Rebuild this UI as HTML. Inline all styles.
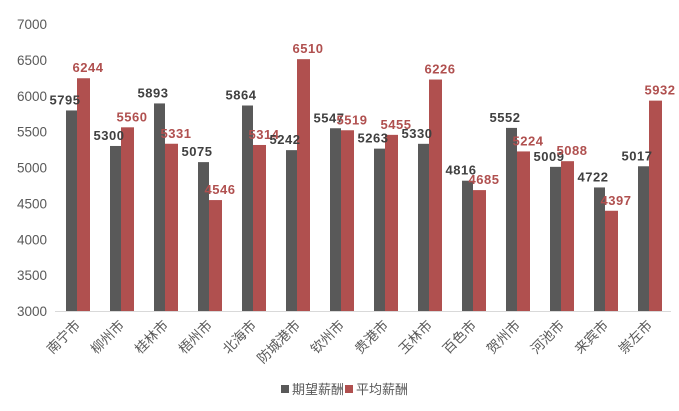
<!DOCTYPE html>
<html><head><meta charset="utf-8"><style>
body{margin:0;background:#fff;}
svg{display:block;font-family:"Liberation Sans","Noto Sans CJK SC",sans-serif;}
</style></head><body>
<svg id="c" width="679" height="411"></svg>
<script>
const categories=["南宁市","柳州市","桂林市","梧州市","北海市","防城港市","钦州市","贵港市","玉林市","百色市","贺州市","河池市","来宾市","崇左市"];
const expected=[5795,5300,5893,5075,5864,5242,5547,5263,5330,4816,5552,5009,4722,5017];
const average=[6244,5560,5331,4546,5314,6510,5519,5455,6226,4685,5224,5088,4397,5932];
const ticks=[3000,3500,4000,4500,5000,5500,6000,6500,7000];
const NS="http://www.w3.org/2000/svg";
const svg=document.getElementById('c');
const x0=55,x1=671,yTop=24,yBot=311,vmin=3000,vmax=7000;
const step=(x1-x0)/categories.length,bw=11;
function y(v){return yBot-(v-vmin)/(vmax-vmin)*(yBot-yTop);}
function mk(t,a,txt){const e=document.createElementNS(NS,t);for(const k in a)e.setAttribute(k,a[k]);if(txt!==undefined)e.textContent=txt;svg.appendChild(e);return e;}
ticks.forEach(t=>{
 const e=mk('text',{x:47,y:y(t)+5,'text-anchor':'end','font-size':13.5,fill:'#595959'},t);
 
 
});
const ax=mk('line',{x1:x0,x2:x1,y1:yBot+0.5,y2:yBot+0.5,stroke:'#d9d9d9','stroke-width':1});


categories.forEach((c,i)=>{
 const cx=x0+step*(i+0.5);
 const b1=mk('rect',{x:cx-bw,y:y(expected[i]),width:bw,height:yBot-y(expected[i]),fill:'#595959'});
 
 
 const b2=mk('rect',{x:cx,y:y(average[i]),width:bw+2,height:yBot-y(average[i]),fill:'#b0504f'});
 
 
 const l1=mk('text',{x:cx-12,y:y(expected[i])-6,'text-anchor':'middle','font-size':13,'font-weight':'bold',fill:'#404040','letter-spacing':0.5},expected[i]);
 
 
 const l2=mk('text',{x:cx+11,y:y(average[i])-6,'text-anchor':'middle','font-size':13,'font-weight':'bold',fill:'#b0504f','letter-spacing':0.5},average[i]);
 
 
 const cl=mk('text',{x:cx+4,y:yBot+15,'text-anchor':'end','font-size':13.5,fill:'#595959',transform:`rotate(-45 ${cx+4} ${yBot+15})`},c);
 
 
});
const g=[['期望薪酬','#595959',281],['平均薪酬','#b0504f',345]];
g.forEach(([t,col,x])=>{
 const r=mk('rect',{x:x,y:385,width:8,height:8,fill:col});
 
 
 const tx=mk('text',{x:x+11,y:394,'font-size':13,fill:'#595959'},t);
 
 
});
</script>
</body></html>
